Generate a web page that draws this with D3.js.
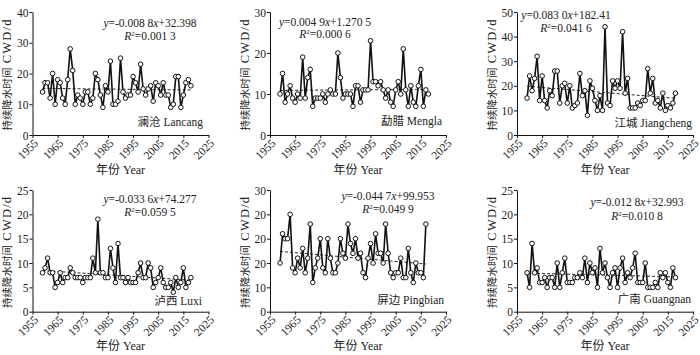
<!DOCTYPE html>
<html>
<head>
<meta charset="utf-8">
<script src="https://cdn.jsdelivr.net/npm/d3@7"></script>
<style>
body { margin: 0; background: #fff; }
svg text { font-family: "Liberation Serif", "Times New Roman", "Noto Sans CJK SC", serif; fill: #222; }
</style>
</head>
<body>
<svg id="chart" width="700" height="355"></svg>
<script>
// observation years
const years = [1959, 1960, 1961, 1962, 1963, 1964, 1965, 1966, 1967, 1968,
  1969, 1970, 1971, 1972, 1973, 1974, 1975, 1976, 1977, 1978,
  1979, 1980, 1981, 1982, 1983, 1984, 1985, 1986, 1987, 1988,
  1989, 1990, 1991, 1992, 1993, 1994, 1995, 1996, 1997, 1998,
  1999, 2000, 2001, 2002, 2003, 2004, 2005, 2006, 2007, 2008,
  2009, 2010, 2011, 2012, 2013, 2014, 2015, 2016, 2017, 2018];

// CWD (days) per station
const lancang = [14, 17, 17, 12, 20, 10, 18, 17, 12, 10, 18, 28, 21, 10, 13, 12, 10, 14, 14, 10,
  12, 20, 18, 13, 9, 16, 14, 24, 10, 10, 11, 25, 14, 12, 13, 13, 19, 17, 14, 23,
  15, 13, 15, 16, 11, 17, 16, 13, 17, 13, 13, 9, 10, 19, 19, 9, 13, 17, 18, 16];
const mengla = [10, 15, 8, 10, 12, 9, 8, 10, 9, 19, 9, 14, 16, 7, 9, 9, 9, 10, 8, 10,
  11, 10, 10, 20, 14, 9, 10, 10, 10, 7, 12, 12, 8, 11, 11, 11, 23, 13, 13, 12,
  13, 11, 9, 11, 8, 7, 11, 13, 10, 21, 11, 7, 12, 8, 7, 12, 16, 7, 11, 10];
const jiangcheng = [15, 24, 18, 23, 32, 14, 24, 14, 11, 18, 16, 26, 26, 13, 20, 21, 13, 20, 11, 12,
  13, 25, 16, 18, 8, 22, 19, 14, 10, 16, 10, 44, 13, 12, 22, 19, 22, 19, 42, 17,
  23, 11, 11, 11, 13, 12, 14, 14, 27, 17, 23, 13, 14, 11, 17, 10, 12, 11, 13, 17];
const luxi = [8, 9, 11, 8, 8, 5, 6, 8, 6, 7, 7, 9, 8, 7, 7, 7, 6, 7, 7, 7,
  11, 8, 19, 8, 8, 7, 7, 13, 9, 6, 14, 7, 7, 6, 7, 6, 6, 6, 8, 10,
  7, 7, 10, 9, 5, 6, 7, 9, 6, 5, 5, 6, 4, 7, 5, 6, 9, 5, 6, 7];
const pingbian = [10, 16, 15, 15, 20, 9, 8, 11, 9, 13, 8, 11, 18, 6, 9, 11, 15, 9, 8, 15,
  11, 8, 8, 10, 15, 12, 11, 18, 14, 12, 15, 11, 12, 8, 7, 11, 14, 10, 16, 12,
  12, 10, 18, 12, 8, 7, 8, 8, 11, 7, 7, 13, 8, 6, 10, 8, 8, 7, 18];
const guangnan = [8, 5, 14, 8, 9, 6, 6, 7, 5, 7, 7, 5, 10, 5, 8, 11, 6, 6, 6, 7,
  7, 8, 7, 11, 6, 10, 8, 9, 5, 13, 8, 10, 7, 5, 8, 9, 5, 9, 11, 6,
  8, 7, 9, 12, 6, 6, 6, 10, 5, 5, 5, 6, 5, 8, 7, 8, 6, 5, 9, 7];

const stations = ['澜沧 Lancang', '勐腊 Mengla', '江城 Jiangcheng', '泸西 Luxi', '屏边 Pingbian', '广南 Guangnan'];
const series = [lancang, mengla, jiangcheng, luxi, pingbian, guangnan];

// fitted trends as printed (Jiangcheng trend drawn falling)
const slopes = [-0.0088, 0.0049, -0.0830, -0.0336, -0.0447, -0.0128];
const intercepts = [32.398, 1.2705, 182.41, 74.277, 99.953, 32.993];
const eqSlopeText = ['-0.008 8', '0.004 9', '0.083 0', '-0.033 6', '-0.044 7', '-0.012 8'];
const eqConstText = ['32.398', '1.270 5', '182.41', '74.277', '99.953', '32.993'];
const r2Text = ['0.001 3', '0.000 6', '0.041 6', '0.059 5', '0.049 9', '0.010 8'];

const yMax = [40, 30, 50, 25, 25, 25];
const yTicks = [[0, 10, 20, 30, 40], [0, 10, 20, 30], [0, 10, 20, 30, 40, 50],
  [0, 5, 10, 15, 20, 25], [0, 5, 10, 15, 20, 25], [0, 5, 10, 15, 20, 25]];
const pingbianTickLabels = ['0', '10', '20', '20', '20', '30'];
const xTicks = [1955, 1965, 1975, 1985, 1995, 2005, 2015, 2025];

const yTitleCn = '持续降水时间';
const yTitleEn = ' CWD/d';
const xTitle = '年份 Year';

// panel placement
const layout = [
  {left: 32.5, top: 12, h: 123, eqX: 150, eqY: 27, r2Y: 40, lblX: 203, lblY: 126},
  {left: 270, top: 12, h: 123, eqX: 325, eqY: 26, r2Y: 38, lblX: 442, lblY: 125},
  {left: 517, top: 12, h: 123, eqX: 566, eqY: 18.5, r2Y: 32, lblX: 692, lblY: 126.5},
  {left: 32.5, top: 190, h: 121.7, eqX: 150, eqY: 203, r2Y: 216, lblX: 202, lblY: 305},
  {left: 270, top: 190, h: 121.7, eqX: 388, eqY: 200, r2Y: 213, lblX: 444, lblY: 304},
  {left: 517, top: 190, h: 121.7, eqX: 637, eqY: 206, r2Y: 220, lblX: 691, lblY: 303}
];
const plotW = 176;

const svg = d3.select('#chart');

series.forEach(function (vals, i) {
  var L = layout[i];
  var g = svg.append('g').attr('transform', 'translate(' + L.left + ',' + L.top + ')');
  var x = d3.scaleLinear().domain([1955, 2025]).range([0, plotW]);
  var y = d3.scaleLinear().domain([0, yMax[i]]).range([L.h, 0]);
  var yrs = years.slice(0, vals.length);

  var yAxis = d3.axisLeft(y).tickValues(yTicks[i]).tickSize(3).tickSizeOuter(0);
  if (i === 4) yAxis.tickFormat(function (d, k) { return pingbianTickLabels[k]; });
  var ya = g.append('g').call(yAxis);
  ya.attr('font-family', null).attr('font-size', 11.5);
  ya.selectAll('text').attr('x', -4).attr('dy', '0.36em');

  var xa = g.append('g').attr('transform', 'translate(0,' + L.h + ')')
    .call(d3.axisBottom(x).tickValues(xTicks).tickFormat(d3.format('d')).tickSize(3).tickSizeOuter(0));
  xa.attr('font-family', null).attr('font-size', 11.5);
  xa.selectAll('text')
    .attr('x', 0).attr('y', 0).attr('dy', '0.35em')
    .attr('text-anchor', 'end')
    .attr('transform', 'translate(3,6) rotate(-45)');
  g.selectAll('.domain, .tick line').attr('stroke', '#111');

  // dashed linear trend
  var ends = [yrs[0], yrs[yrs.length - 1]];
  g.append('path')
    .attr('d', d3.line()
      .x(function (d) { return x(d); })
      .y(function (d) { return y(slopes[i] * d + intercepts[i]); })(ends))
    .attr('fill', 'none').attr('stroke', '#111').attr('stroke-width', 0.9)
    .attr('stroke-dasharray', '3,2');

  g.append('path')
    .attr('d', d3.line()
      .x(function (d, k) { return x(yrs[k]); })
      .y(function (d) { return y(d); })(vals))
    .attr('fill', 'none').attr('stroke', '#111').attr('stroke-width', 1.6);

  g.selectAll('circle').data(vals).enter().append('circle')
    .attr('cx', function (d, k) { return x(yrs[k]); })
    .attr('cy', function (d) { return y(d); })
    .attr('r', 2.3)
    .attr('fill', '#fff').attr('stroke', '#111').attr('stroke-width', 1);

  // equation + R2
  var eq = svg.append('text').attr('x', L.eqX).attr('y', L.eqY)
    .attr('text-anchor', 'middle').attr('font-size', 11.5);
  eq.append('tspan').attr('font-style', 'italic').text('y');
  eq.append('tspan').text('=' + eqSlopeText[i]);
  eq.append('tspan').attr('font-style', 'italic').text('x');
  eq.append('tspan').text('+' + eqConstText[i]);

  var r2 = svg.append('text').attr('x', L.eqX).attr('y', L.r2Y)
    .attr('text-anchor', 'middle').attr('font-size', 11.5);
  r2.append('tspan').attr('font-style', 'italic').text('R');
  r2.append('tspan').attr('font-size', 7).attr('dy', -4).text('2');
  r2.append('tspan').attr('dy', 4).text('=' + r2Text[i]);

  svg.append('text').attr('x', L.lblX).attr('y', L.lblY)
    .attr('text-anchor', 'end').attr('font-size', 11.5).text(stations[i]);

  var yt = svg.append('text')
    .attr('transform', 'translate(' + (L.left - 27) + ',' + (L.top + L.h / 2 + 1) + ') rotate(-90)')
    .attr('text-anchor', 'middle').attr('dy', '0.35em');
  yt.append('tspan').attr('font-size', 10.5).text(yTitleCn);
  yt.append('tspan').attr('font-size', 12.5).attr('letter-spacing', 1.2).text(yTitleEn);

  svg.append('text').attr('x', L.left + plotW / 2).attr('y', L.top + L.h + 38.5)
    .attr('text-anchor', 'middle').attr('font-size', 12).text(xTitle);
});
</script>
</body>
</html>
